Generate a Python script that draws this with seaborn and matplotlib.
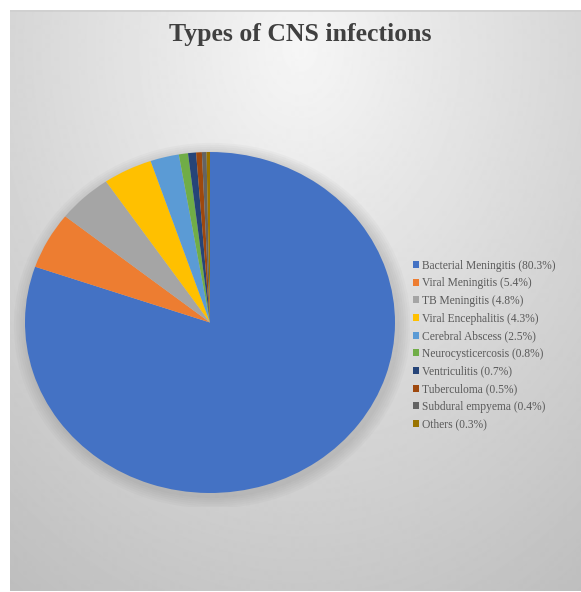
import numpy as np
import matplotlib
matplotlib.use('Agg')
import matplotlib.pyplot as plt
import seaborn as sns
from matplotlib.patches import Ellipse

# Dados
tipos = ['Bacterial Meningitis', 'Viral Meningitis', 'TB Meningitis', 'Viral Encephalitis',
         'Cerebral Abscess', 'Neurocysticercosis', 'Ventriculitis', 'Tuberculoma',
         'Subdural empyema', 'Others']
percentuais = [80.3, 5.4, 4.8, 4.3, 2.5, 0.8, 0.7, 0.5, 0.4, 0.3]
cores = ['#4472C4', '#ED7D31', '#A5A5A5', '#FFC000', '#5B9BD5',
         '#70AD47', '#264478', '#9E480E', '#636363', '#997300']

sns.set_theme(style='white')
plt.rcParams['font.family'] = ['Liberation Serif', 'DejaVu Serif']

W, H = 581, 592
fig = plt.figure(figsize=(W / 100, H / 100), dpi=100)
fig.patch.set_facecolor('white')

# Fundo com gradiente
bg = fig.add_axes([10 / W, 0, (W - 10) / W, (H - 10) / H])
yy, xx = np.mgrid[0:H - 10, 0:W - 10]
d = np.sqrt(((xx - 290) / 430.0) ** 2 + ((yy - 40) / 560.0) ** 2)
grad = np.clip(246 - 48 * d, 190, 250) / 255.0
bg.imshow(grad, cmap='gray', vmin=0, vmax=1, aspect='auto', interpolation='bilinear')
bg.axis('off')
bg.plot([0, W], [0.5, 0.5], color='#cfcfcf', lw=1.2)
bg.set_xlim(0, W - 10)
bg.set_ylim(H - 10, 0)

# Pizza
ax = fig.add_axes([25 / W, (H - 493) / H, 370 / W, 341 / H])
# sombra suave
for k in range(6):
    s = 1.0 + 0.012 * (k + 1)
    ax.add_patch(Ellipse((0.012, -0.018), 2 * s, 2 * s, color='#707070', alpha=0.045,
                         lw=0, zorder=0))
wedges, _ = ax.pie(percentuais, colors=cores, startangle=90, counterclock=False,
                   radius=1, wedgeprops=dict(linewidth=0))
ax.set_aspect('auto')
ax.set_xlim(-1.08, 1.08)
ax.set_ylim(-1.08, 1.08)
ax.set_position([25 / W - 0.04 * 370 / W, (H - 493) / H - 0.04 * 341 / H,
                 1.08 * 370 / W, 1.08 * 341 / H])
ax.axis('off')

# Título
fig.text(300 / W, 1 - 34 / H, 'Types of CNS infections', ha='center', va='center',
         fontsize=18.5, fontweight='bold', color='#404040')

# Legenda
rotulos = [f'{t} ({p}%)' for t, p in zip(tipos, percentuais)]
leg = fig.legend(wedges, rotulos, loc='upper left', bbox_to_anchor=(408 / W, 1 - 255 / H),
                 frameon=False, fontsize=8.3, handlelength=0.55, handleheight=0.55,
                 handletextpad=0.3, labelspacing=0.49, borderaxespad=0)
for t in leg.get_texts():
    t.set_color('#595959')

plt.savefig('out.png', dpi=100)
